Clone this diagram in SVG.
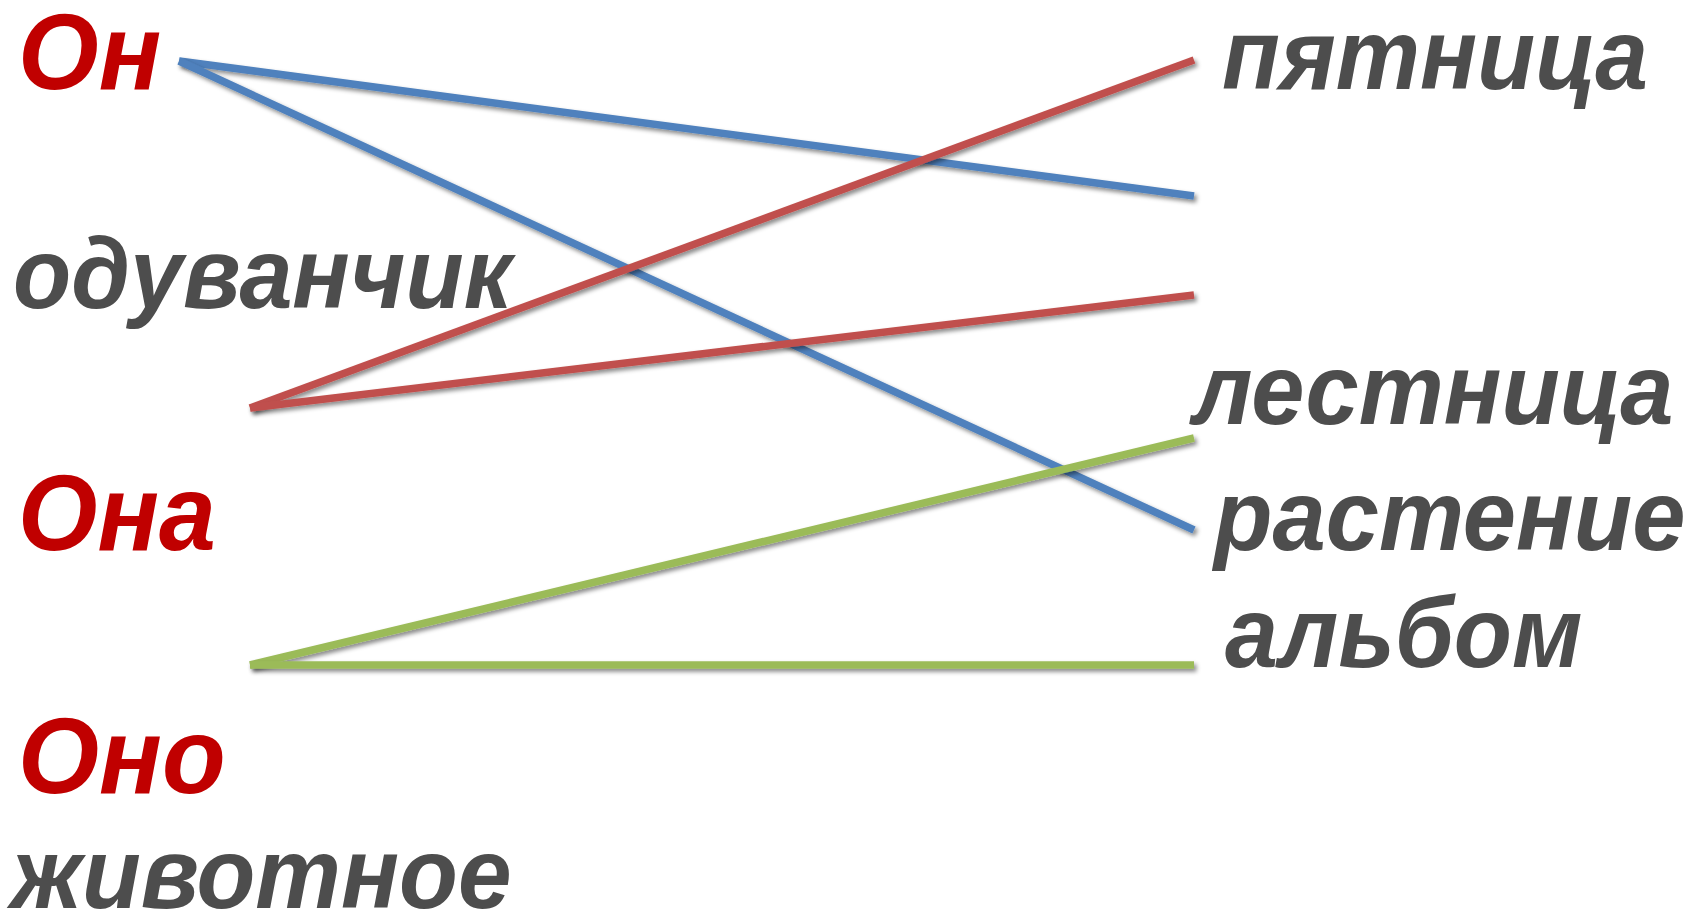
<svg xmlns="http://www.w3.org/2000/svg" width="1695" height="914" viewBox="0 0 1695 914">
<defs>
<style>
.red{font-family:"Liberation Sans",Arial,sans-serif;font-weight:bold;font-style:italic;font-size:108px;fill:#C00000}
.gray{font-family:"Liberation Sans",Arial,sans-serif;font-weight:bold;font-style:italic;font-size:100px;fill:#4D4D4D}
.ln{stroke-width:7.5;fill:none;filter:url(#sh)}
.b{stroke:#4F81BD}.r{stroke:#C0504D}.g{stroke:#9BBB59}
</style>
<filter id="sh" filterUnits="userSpaceOnUse" x="0" y="0" width="1695" height="914">
<feDropShadow dx="2.5" dy="3" stdDeviation="2" flood-color="#000" flood-opacity="0.45"/>
</filter>
</defs>
<rect width="1695" height="914" fill="#fff"/>
<g id="connectors">
<line class="ln b" x1="179" y1="61" x2="1194" y2="196"/>
<line class="ln b" x1="179" y1="61" x2="1194" y2="530"/>
<line class="ln r" x1="250" y1="408" x2="1194" y2="60"/>
<line class="ln r" x1="250" y1="408" x2="1194" y2="295"/>
<line class="ln g" x1="250" y1="665" x2="1194" y2="438"/>
<line class="ln g" x1="250" y1="665" x2="1194" y2="665"/>
</g>
<g id="on"><text class="red" transform="translate(18,89) scale(0.96,1)">Он</text></g>
<g id="oduvanchik"><text class="gray" transform="translate(13,308) scale(0.953,1)">одуванчик</text></g>
<g id="ona"><text class="red" transform="translate(18,550) scale(0.945,1)">Она</text></g>
<g id="ono"><text class="red" transform="translate(18,793) scale(0.965,1)">Оно</text></g>
<g id="zhivotnoe"><text class="gray" transform="translate(11,908) scale(0.963,1)">животное</text></g>
<g id="pyatnitsa"><text class="gray" transform="translate(1222,89) scale(0.948,1)">пятница</text></g>
<g id="lestnitsa"><text class="gray" transform="translate(1193,424) scale(0.956,1)">лестница</text></g>
<g id="rastenie"><text class="gray" transform="translate(1214,550) scale(0.957,1)">растение</text></g>
<g id="albom"><text class="gray" transform="translate(1225,667) scale(0.952,1)">альбом</text></g>
</svg>
